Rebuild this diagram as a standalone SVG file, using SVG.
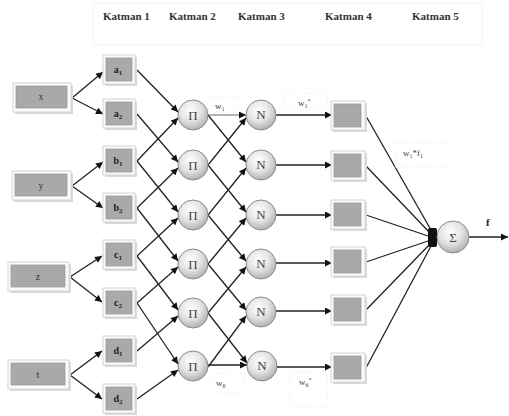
<svg xmlns="http://www.w3.org/2000/svg" width="509" height="416" viewBox="0 0 509 416">
<style>
.hdr{font-family:"Liberation Serif",serif;font-weight:bold;font-size:11px;fill:#333}
.lbl{font-family:"Liberation Serif",serif;font-size:10px;fill:#333;text-anchor:middle}
.mf{font-family:"Liberation Serif",serif;font-weight:bold;font-size:10px;fill:#222;text-anchor:middle}
.sym{font-family:"Liberation Serif",serif;font-size:13px;fill:#444;text-anchor:middle}
.wl{font-family:"Liberation Serif",serif;font-size:9px;fill:#444}
.shadow{fill:#dadada}
.frame{fill:#fbfbfb;stroke:#d4d4d4;stroke-width:1}
.inner{fill:#a9a9a9;stroke:#9c9c9c;stroke-width:0.8}
.node{fill:url(#cg);stroke:#8a8a8a;stroke-width:1}
.faint{fill:none;stroke:#ececec;stroke-width:0.8;stroke-dasharray:1.5,1.5}
.con line{stroke:#222;stroke-width:1.3;marker-end:url(#ah)}
.plain line{stroke:#222;stroke-width:1.3}
</style>
<defs>
<marker id="ah" viewBox="0 0 10 10" refX="10" refY="5" markerWidth="8" markerHeight="7" markerUnits="userSpaceOnUse" orient="auto"><path d="M0,0 L10,5 L0,10 z" fill="#111"/></marker>
<radialGradient id="cg" cx="42%" cy="35%" r="65%"><stop offset="0" stop-color="#ffffff"/><stop offset="0.55" stop-color="#e4e4e4"/><stop offset="1" stop-color="#b2b2b2"/></radialGradient>
</defs>
<rect width="509" height="416" fill="#fff"/>

<g id="header">
<rect x="93" y="3" width="389" height="42" fill="none" stroke="#f0f0f0" stroke-width="0.8"/>
<text class="hdr" x="103" y="20">Katman 1</text>
<text class="hdr" x="169" y="20">Katman 2</text>
<text class="hdr" x="238" y="20">Katman 3</text>
<text class="hdr" x="325" y="20">Katman 4</text>
<text class="hdr" x="412" y="20">Katman 5</text>
</g>

<g id="connectors">
<g class="con">
<line x1="72" y1="98" x2="103" y2="72"/>
<line x1="72" y1="98" x2="103" y2="114"/>
<line x1="72" y1="186" x2="103" y2="162"/>
<line x1="72" y1="186" x2="103" y2="208"/>
<line x1="70" y1="277" x2="102" y2="256"/>
<line x1="70" y1="277" x2="102" y2="302"/>
<line x1="70" y1="375" x2="102" y2="351"/>
<line x1="70" y1="375" x2="102" y2="399"/>
<line x1="137" y1="70" x2="178" y2="112"/>
<line x1="137" y1="161" x2="178" y2="118"/>
<line x1="137" y1="114" x2="178" y2="162"/>
<line x1="137" y1="208" x2="178" y2="168"/>
<line x1="137" y1="161" x2="178" y2="212"/>
<line x1="137" y1="256" x2="178" y2="218"/>
<line x1="137" y1="208" x2="178" y2="261"/>
<line x1="137" y1="303" x2="178" y2="267"/>
<line x1="137" y1="256" x2="178" y2="310"/>
<line x1="137" y1="351" x2="178" y2="316"/>
<line x1="137" y1="303" x2="178" y2="364"/>
<line x1="137" y1="399" x2="178" y2="370"/>
<line x1="208" y1="115" x2="246" y2="115" style="stroke:#9a9a9a"/>
<line x1="208" y1="115" x2="246" y2="162"/>
<line x1="208" y1="165" x2="246" y2="118"/>
<line x1="208" y1="165" x2="246" y2="212"/>
<line x1="208" y1="215" x2="246" y2="168"/>
<line x1="208" y1="215" x2="246" y2="261"/>
<line x1="208" y1="264" x2="246" y2="218"/>
<line x1="208" y1="264" x2="246" y2="310"/>
<line x1="208" y1="313" x2="246" y2="267"/>
<line x1="208" y1="313" x2="247" y2="363"/>
<line x1="208" y1="367" x2="246" y2="316"/>
<line x1="208" y1="365" x2="247" y2="365"/>
<line x1="276" y1="115" x2="332" y2="115"/>
<line x1="276" y1="165" x2="332" y2="165"/>
<line x1="276" y1="215" x2="332" y2="215"/>
<line x1="276" y1="263" x2="332" y2="263"/>
<line x1="276" y1="311" x2="332" y2="311"/>
<line x1="276" y1="367" x2="332" y2="367"/>
<line x1="469" y1="237" x2="508" y2="237"/>
</g>
<g class="plain">
<line x1="366" y1="116" x2="431" y2="230"/>
<line x1="366" y1="166" x2="431" y2="234"/>
<line x1="366" y1="215" x2="431" y2="237"/>
<line x1="366" y1="262" x2="431" y2="240"/>
<line x1="366" y1="310" x2="431" y2="243"/>
<line x1="366" y1="368" x2="431" y2="246"/>
</g>
<rect x="428" y="228" width="9" height="19" rx="2" fill="#111"/>
</g>

<g id="in-x"><rect class="shadow" x="15" y="85" width="58" height="29"/><rect class="frame" x="13" y="83" width="58" height="29"/><rect class="inner" x="16" y="86" width="51" height="22"/><text class="lbl" x="41" y="100">x</text></g>
<g id="in-y"><rect class="shadow" x="14" y="173" width="59" height="29"/><rect class="frame" x="12" y="171" width="59" height="29"/><rect class="inner" x="15" y="174" width="52" height="22"/><text class="lbl" x="41" y="189">y</text></g>
<g id="in-z"><rect class="shadow" x="10" y="264" width="61" height="29"/><rect class="frame" x="8" y="262" width="61" height="29"/><rect class="inner" x="11" y="265" width="54" height="22"/><text class="lbl" x="38" y="280">z</text></g>
<g id="in-t"><rect class="shadow" x="10" y="362" width="61" height="29"/><rect class="frame" x="8" y="360" width="61" height="29"/><rect class="inner" x="11" y="363" width="54" height="22"/><text class="lbl" x="38" y="378">t</text></g>

<g id="mf-a1"><rect class="shadow" x="105" y="57" width="32" height="29"/><rect class="frame" x="103" y="55" width="32" height="29"/><rect class="inner" x="106" y="58" width="26" height="23"/><text class="mf" x="118" y="73">a<tspan font-size="7" dy="2">1</tspan></text></g>
<g id="mf-a2"><rect class="shadow" x="105" y="101" width="32" height="29"/><rect class="frame" x="103" y="99" width="32" height="29"/><rect class="inner" x="106" y="102" width="26" height="23"/><text class="mf" x="118" y="117">a<tspan font-size="7" dy="2">2</tspan></text></g>
<g id="mf-b1"><rect class="shadow" x="105" y="148" width="32" height="29"/><rect class="frame" x="103" y="146" width="32" height="29"/><rect class="inner" x="106" y="149" width="26" height="23"/><text class="mf" x="118" y="164">b<tspan font-size="7" dy="2">1</tspan></text></g>
<g id="mf-b2"><rect class="shadow" x="105" y="195" width="32" height="29"/><rect class="frame" x="103" y="193" width="32" height="29"/><rect class="inner" x="106" y="196" width="26" height="23"/><text class="mf" x="118" y="211">b<tspan font-size="7" dy="2">2</tspan></text></g>
<g id="mf-c1"><rect class="shadow" x="105" y="242" width="32" height="29"/><rect class="frame" x="103" y="240" width="32" height="29"/><rect class="inner" x="106" y="243" width="26" height="23"/><text class="mf" x="118" y="258">c<tspan font-size="7" dy="2">1</tspan></text></g>
<g id="mf-c2"><rect class="shadow" x="105" y="290" width="32" height="29"/><rect class="frame" x="103" y="288" width="32" height="29"/><rect class="inner" x="106" y="291" width="26" height="23"/><text class="mf" x="118" y="306">c<tspan font-size="7" dy="2">2</tspan></text></g>
<g id="mf-d1"><rect class="shadow" x="105" y="338" width="32" height="29"/><rect class="frame" x="103" y="336" width="32" height="29"/><rect class="inner" x="106" y="339" width="26" height="23"/><text class="mf" x="118" y="354">d<tspan font-size="7" dy="2">1</tspan></text></g>
<g id="mf-d2"><rect class="shadow" x="105" y="386" width="32" height="29"/><rect class="frame" x="103" y="384" width="32" height="29"/><rect class="inner" x="106" y="387" width="26" height="23"/><text class="mf" x="118" y="402">d<tspan font-size="7" dy="2">2</tspan></text></g>

<g id="pi1"><circle class="node" cx="193" cy="115" r="15"/><text class="sym" x="193" y="120">Π</text></g>
<g id="pi2"><circle class="node" cx="193" cy="165" r="15"/><text class="sym" x="193" y="170">Π</text></g>
<g id="pi3"><circle class="node" cx="193" cy="215" r="15"/><text class="sym" x="193" y="220">Π</text></g>
<g id="pi4"><circle class="node" cx="193" cy="264" r="15"/><text class="sym" x="193" y="269">Π</text></g>
<g id="pi5"><circle class="node" cx="193" cy="313" r="15"/><text class="sym" x="193" y="318">Π</text></g>
<g id="pi6"><circle class="node" cx="193" cy="366" r="15"/><text class="sym" x="193" y="371">Π</text></g>

<g id="n1"><circle class="node" cx="261" cy="115" r="15"/><text class="sym" x="261" y="119" font-size="10">N</text></g>
<g id="n2"><circle class="node" cx="261" cy="165" r="15"/><text class="sym" x="261" y="169" font-size="10">N</text></g>
<g id="n3"><circle class="node" cx="261" cy="215" r="15"/><text class="sym" x="261" y="219" font-size="10">N</text></g>
<g id="n4"><circle class="node" cx="261" cy="264" r="15"/><text class="sym" x="261" y="268" font-size="10">N</text></g>
<g id="n5"><circle class="node" cx="261" cy="312" r="15"/><text class="sym" x="261" y="316" font-size="10">N</text></g>
<g id="n6"><circle class="node" cx="262" cy="366" r="15"/><text class="sym" x="262" y="370" font-size="10">N</text></g>

<g id="l4-1"><rect class="shadow" x="333" y="103" width="34" height="29"/><rect class="frame" x="331" y="101" width="34" height="29"/><rect class="inner" x="334" y="104" width="27" height="23"/></g>
<g id="l4-2"><rect class="shadow" x="333" y="153" width="34" height="29"/><rect class="frame" x="331" y="151" width="34" height="29"/><rect class="inner" x="334" y="154" width="27" height="23"/></g>
<g id="l4-3"><rect class="shadow" x="333" y="202" width="34" height="29"/><rect class="frame" x="331" y="200" width="34" height="29"/><rect class="inner" x="334" y="203" width="27" height="23"/></g>
<g id="l4-4"><rect class="shadow" x="333" y="249" width="34" height="29"/><rect class="frame" x="331" y="247" width="34" height="29"/><rect class="inner" x="334" y="250" width="27" height="23"/></g>
<g id="l4-5"><rect class="shadow" x="333" y="297" width="34" height="29"/><rect class="frame" x="331" y="295" width="34" height="29"/><rect class="inner" x="334" y="298" width="27" height="23"/></g>
<g id="l4-6"><rect class="shadow" x="333" y="355" width="34" height="29"/><rect class="frame" x="331" y="353" width="34" height="29"/><rect class="inner" x="334" y="356" width="27" height="23"/></g>

<g id="sigma"><circle class="node" cx="453" cy="237" r="16"/><text class="sym" x="453" y="242">Σ</text></g>

<g id="labels">
<rect class="faint" x="208" y="97" width="32" height="15"/>
<text class="wl" x="215" y="109">w<tspan font-size="6" dy="1.5">1</tspan></text>
<rect class="faint" x="283" y="93" width="44" height="17"/>
<text class="wl" x="298" y="106">w<tspan font-size="6" dy="1.5">1</tspan><tspan font-size="6" dy="-5">*</tspan></text>
<rect class="faint" x="213" y="373" width="32" height="20"/>
<text class="wl" x="216" y="386">w<tspan font-size="6" dy="1.5">6</tspan></text>
<rect class="faint" x="290" y="372" width="37" height="35"/>
<text class="wl" x="299" y="385">w<tspan font-size="6" dy="1.5">6</tspan><tspan font-size="6" dy="-5">*</tspan></text>
<rect class="faint" x="395" y="143" width="53" height="24"/>
<text class="wl" x="403" y="156">w<tspan font-size="6" dy="1.5">1</tspan><tspan dy="-1.5">*f</tspan><tspan font-size="6" dy="1.5">1</tspan></text>
<text x="486" y="226" style="font-family:'Liberation Serif',serif;font-weight:bold;font-size:11px;fill:#222">f</text>
</g>
</svg>
